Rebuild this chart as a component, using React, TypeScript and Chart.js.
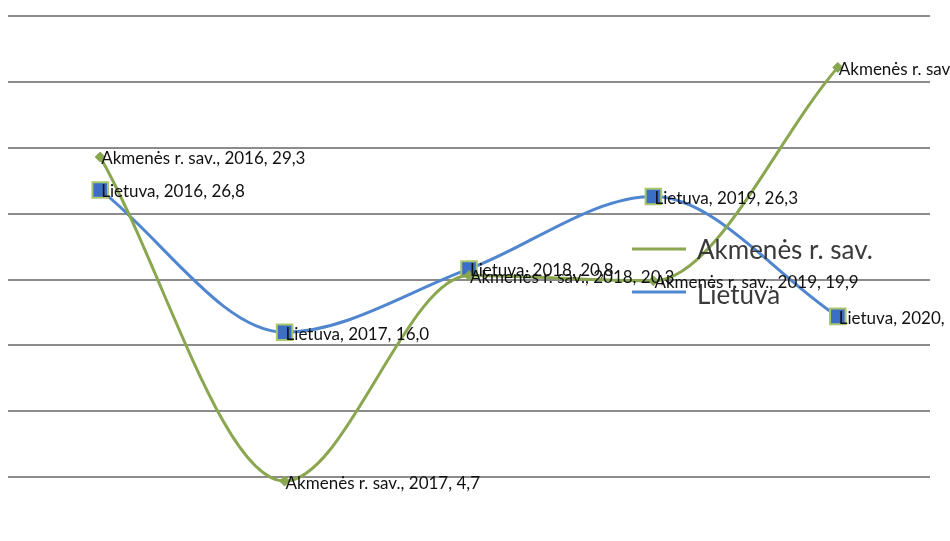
import React, { useEffect, useRef } from "react";
import { Chart, registerables } from "chart.js";

Chart.register(...registerables);

const categories = ["2016", "2017", "2018", "2019", "2020"];
const akmeneValues = [29.3, 4.7, 20.3, 19.9, 36.1];
const lietuvaValues = [26.8, 16.0, 20.8, 26.3, 17.2];
const seriesNames = ["Akmenės r. sav.", "Lietuva"];
const yTicks = [0, 5, 10, 15, 20, 25, 30, 35, 40];

const GREEN = "#8aa64f";
const BLUE = "#4f86cf";

const fmt = (v: number) => v.toFixed(1).replace(".", ",");

const labelPlugin = {
  id: "pointLabels",
  afterDatasetsDraw(chart: any) {
    const ctx = chart.ctx;
    ctx.save();
    ctx.font = '17px Lato, sans-serif';
    ctx.fillStyle = "#111";
    ctx.textAlign = "left";
    ctx.textBaseline = "middle";
    chart.data.datasets.forEach((ds: any, di: number) => {
      const meta = chart.getDatasetMeta(di);
      meta.data.forEach((pt: any, i: number) => {
        const text = `${ds.label}, ${categories[i]}, ${fmt(ds.data[i])}`;
        ctx.fillText(text, pt.x + 1, pt.y + 2);
      });
    });
    ctx.restore();
  },
};

const legendPlugin = {
  id: "customLegend",
  afterDraw(chart: any) {
    const ctx = chart.ctx;
    ctx.save();
    const items = [
      { name: seriesNames[0], color: GREEN, y: 249, ty: 251 },
      { name: seriesNames[1], color: BLUE, y: 292, ty: 296 },
    ];
    ctx.font = '26px Lato, sans-serif';
    ctx.textAlign = "left";
    ctx.textBaseline = "middle";
    items.forEach((it) => {
      ctx.strokeStyle = it.color;
      ctx.lineWidth = 3;
      ctx.beginPath();
      ctx.moveTo(632, it.y);
      ctx.lineTo(686, it.y);
      ctx.stroke();
      ctx.fillStyle = "#3a3a3a";
      ctx.fillText(it.name, 697, it.ty);
    });
    ctx.restore();
  },
};

export default function App() {
  const ref = useRef<HTMLCanvasElement>(null);
  useEffect(() => {
    document.body.style.margin = "0";
    document.body.style.overflow = "hidden";
    const chart = new Chart(ref.current!, {
      type: "line",
      data: {
        labels: categories,
        datasets: [
          {
            label: seriesNames[0],
            data: akmeneValues,
            borderColor: GREEN,
            backgroundColor: GREEN,
            borderWidth: 3,
            cubicInterpolationMode: "monotone",
            pointStyle: "rectRot",
            pointRadius: 5,
            pointBorderWidth: 1,
            pointBackgroundColor: GREEN,
            pointBorderColor: GREEN,
          },
          {
            label: seriesNames[1],
            data: lietuvaValues,
            borderColor: BLUE,
            backgroundColor: BLUE,
            borderWidth: 3,
            cubicInterpolationMode: "monotone",
            pointStyle: "rect",
            pointRadius: 11,
            pointBorderWidth: 2,
            pointBackgroundColor: "#3b6fc6",
            pointBorderColor: "#a9c66c",
          },
        ],
      },
      options: {
        animation: false,
        responsive: false,
        maintainAspectRatio: false,
        layout: { autoPadding: false, padding: { left: 8, right: 20, top: 16, bottom: 3 } },
        plugins: {
          legend: { display: false },
          tooltip: { enabled: false },
        },
        scales: {
          x: {
            display: false,
            offset: true,
          },
          y: {
            min: 0,
            max: 40,
            afterBuildTicks: (axis: any) => {
              axis.ticks = yTicks.map((v) => ({ value: v }));
            },
            grid: { color: "#8c8c8c", lineWidth: 2, drawTicks: false },
            border: { display: false },
            ticks: { display: false },
          },
        },
      },
      plugins: [labelPlugin, legendPlugin],
    });
    return () => chart.destroy();
  }, []);
  return (
    <canvas
      ref={ref}
      width={950}
      height={546}
      style={{ position: "absolute", left: 0, top: 0, width: 950, height: 546 }}
    />
  );
}
